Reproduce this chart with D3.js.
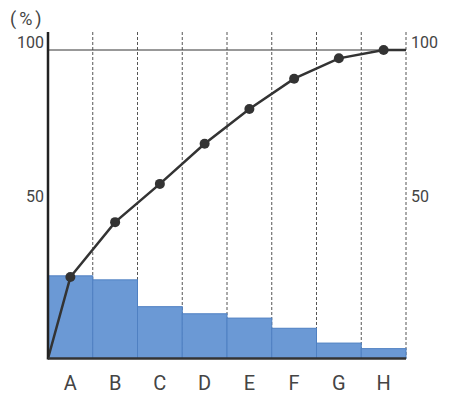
<!DOCTYPE html>
<html>
  <head>
    <meta charset="UTF-8">
    <title>Pareto chart</title>
    <script src="https://d3js.org/d3.v7.min.js"></script>
    <style>
      body { margin: 0; background: #fff; }
      text { font-family: Roboto, "Noto Sans", sans-serif; fill: #444; }
    </style>
  </head>
  <body>
    <svg id="chart" width="450" height="400"></svg>
    <script>
      // Values
      const categories = ["A", "B", "C", "D", "E", "F", "G", "H"];
      const barValues = [26.8, 25.5, 16.8, 14.5, 13.1, 9.8, 5.0, 3.2];
      const cumulative = [26.4, 44.2, 56.6, 69.6, 80.9, 90.7, 97.3, 100];
      const yTicks = [50, 100];

      const svg = d3.select("#chart");
      const plotLeft = 48, plotRight = 406, plotTop = 32, plotBottom = 358.5;

      const x = d3.scaleBand().domain(categories).range([plotLeft, plotRight]).padding(0);
      const y = d3.scaleLinear().domain([0, 100]).range([plotBottom, 50]);

      // Dashed separators between categories (drawn under the bars)
      svg.append("g")
        .selectAll("line")
        .data(categories)
        .join("line")
        .attr("x1", d => x(d) + x.bandwidth())
        .attr("x2", d => x(d) + x.bandwidth())
        .attr("y1", plotTop)
        .attr("y2", plotBottom)
        .attr("stroke", "#555")
        .attr("stroke-width", 1)
        .attr("stroke-dasharray", "3,2");

      // Bars
      svg.append("g")
        .selectAll("rect")
        .data(categories)
        .join("rect")
        .attr("x", d => x(d))
        .attr("y", (d, i) => y(barValues[i]))
        .attr("width", x.bandwidth())
        .attr("height", (d, i) => plotBottom - y(barValues[i]))
        .attr("fill", "#6b99d5")
        .attr("stroke", "#4f80c2")
        .attr("stroke-width", 1);

      // 100% reference line
      svg.append("line")
        .attr("x1", plotLeft).attr("x2", plotRight)
        .attr("y1", y(100)).attr("y2", y(100))
        .attr("stroke", "#333")
        .attr("stroke-width", 1);

      // Cumulative line: starts at 0 on the left edge, ends at the right edge
      const pts = [[plotLeft, 0]]
        .concat(categories.map((c, i) => [x(c) + x.bandwidth() / 2, cumulative[i]]))
        .concat([[plotRight, cumulative[cumulative.length - 1]]]);

      svg.append("path")
        .datum(pts)
        .attr("fill", "none")
        .attr("stroke", "#333")
        .attr("stroke-width", 2.5)
        .attr("d", d3.line().x(d => d[0]).y(d => y(d[1])));

      svg.append("g")
        .selectAll("circle")
        .data(categories)
        .join("circle")
        .attr("cx", d => x(d) + x.bandwidth() / 2)
        .attr("cy", (d, i) => y(cumulative[i]))
        .attr("r", 5)
        .attr("fill", "#333");

      // Axes lines
      svg.append("line")
        .attr("x1", plotLeft).attr("x2", plotLeft)
        .attr("y1", plotTop).attr("y2", plotBottom + 1)
        .attr("stroke", "#222").attr("stroke-width", 2.5);
      svg.append("line")
        .attr("x1", plotLeft).attr("x2", plotRight)
        .attr("y1", plotBottom).attr("y2", plotBottom)
        .attr("stroke", "#333").attr("stroke-width", 2.5);

      // Category labels
      svg.append("g")
        .selectAll("text")
        .data(categories)
        .join("text")
        .attr("x", d => x(d) + x.bandwidth() / 2)
        .attr("y", 390)
        .attr("text-anchor", "middle")
        .attr("font-size", 20)
        .text(d => d);

      // Left and right tick labels
      svg.append("g")
        .selectAll("text")
        .data(yTicks)
        .join("text")
        .attr("x", 44)
        .attr("y", d => y(d) - 2)
        .attr("text-anchor", "end")
        .attr("font-size", 16)
        .text(d => d);
      svg.append("g")
        .selectAll("text")
        .data(yTicks)
        .join("text")
        .attr("x", 411)
        .attr("y", d => y(d) - 2)
        .attr("text-anchor", "start")
        .attr("font-size", 16)
        .text(d => d);

      svg.append("text")
        .attr("x", 10)
        .attr("y", 25)
        .attr("font-size", 18)
        .attr("letter-spacing", 3)
        .text("(%)");
    </script>
  </body>
</html>
